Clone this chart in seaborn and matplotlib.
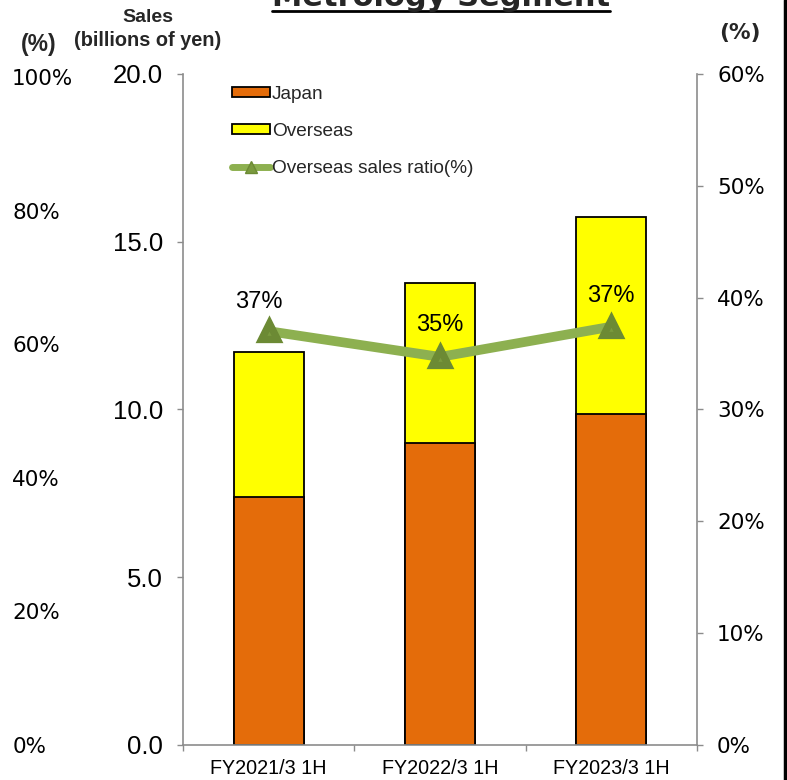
import matplotlib
matplotlib.use("Agg")
import matplotlib.pyplot as plt
import seaborn as sns
import numpy as np
from matplotlib.patches import Patch
from matplotlib.lines import Line2D
from matplotlib.ticker import FixedLocator

sns.set_theme(style="white")
plt.rcParams["font.family"] = ["Liberation Sans", "DejaVu Sans"]

# ---- data ----
categories = ["FY2021/3 1H", "FY2022/3 1H", "FY2023/3 1H"]
japan = [7.39, 9.00, 9.87]
overseas = [4.32, 4.77, 5.87]
ratio = [37.0, 34.7, 37.4]
ratio_labels = ["37%", "35%", "37%"]
left_ticks = [0, 5, 10, 15, 20]
right_ticks = [0, 10, 20, 30, 40, 50, 60]
outer_ticks = [0, 20, 40, 60, 80, 100]

totals = [j + o for j, o in zip(japan, overseas)]

ORANGE = "#E46C0A"
YELLOW = "#FFFF00"
GREEN = "#8DB050"
GREEN_D = "#7A9A3E"
AXC = "#8C8C8C"

fig = plt.figure(figsize=(7.87, 7.80), dpi=100)
ax = fig.add_axes([0.2325, 0.0449, 0.6531, 0.8603])

# stacked bars: totals (overseas part visible on top) then Japan
sns.barplot(x=categories, y=totals, ax=ax, color=YELLOW, saturation=1,
            edgecolor="black", linewidth=1.3, width=0.41)
sns.barplot(x=categories, y=japan, ax=ax, color=ORANGE, saturation=1,
            edgecolor="black", linewidth=1.3, width=0.41)

ax.set_ylim(0, 20)
ax.set_xlim(-0.5, 2.5)
ax.set_yticks(left_ticks)
ax.set_yticklabels([f"{v:.1f}" for v in left_ticks])
ax.set_xlabel("")
ax.set_ylabel("")
ax.xaxis.set_minor_locator(FixedLocator([-0.5, 0.5, 1.5, 2.5]))
ax.tick_params(axis="x", which="major", length=0, pad=10, labelsize=14.2,
               colors="black")
ax.tick_params(axis="x", which="minor", bottom=True, length=4.5, width=1,
               color=AXC, direction="out")
ax.tick_params(axis="y", left=True, length=4.5, width=1, color=AXC,
               direction="out", pad=10, labelsize=18.5, labelcolor="black")
for s in ["top", "right"]:
    ax.spines[s].set_visible(False)
for s in ["left", "bottom"]:
    ax.spines[s].set_color(AXC)
    ax.spines[s].set_linewidth(1.2)

# right axis: overseas ratio
ax2 = ax.twinx()
sns.pointplot(x=categories, y=ratio, ax=ax2, color=GREEN, markers="^",
              markersize=12, linewidth=7, errorbar=None)
for ln in ax2.lines:
    ln.set_markerfacecolor(GREEN_D)
    ln.set_markeredgecolor("#6C8A34")
    ln.set_solid_capstyle("butt")
ax2.set_xlim(-0.5, 2.5)
ax2.set_ylim(0, 60)
ax2.set_yticks(right_ticks)
ax2.set_yticklabels([f"{v}%" for v in right_ticks],
                    fontfamily="DejaVu Sans")
ax2.set_ylabel("")
ax2.tick_params(axis="y", right=True, left=False, labelright=True,
                labelleft=False, length=4.5, width=1, color=AXC,
                direction="out", pad=10, labelsize=15.5, labelcolor="black")
for s in ["top", "left", "bottom"]:
    ax2.spines[s].set_visible(False)
ax2.spines["right"].set_color(AXC)
ax2.spines["right"].set_linewidth(1.2)
ax2.set_xticks(range(len(categories)))
ax2.set_xticklabels(categories)
ax2.set_xlabel("")

offsets = [(-7, 21), (0, 23), (0, 22)]
for i, (r, lab) in enumerate(zip(ratio, ratio_labels)):
    ax2.annotate(lab, (i, r), xytext=offsets[i], textcoords="offset points",
                 ha="center", va="center", fontsize=17, color="black")

# outer left percentage scale
ax3 = ax.twinx()
ax3.set_ylim(0, 100.5)
ax3.set_yticks(outer_ticks)
ax3.set_yticklabels([f"{v}%" for v in outer_ticks], fontfamily="DejaVu Sans")
ax3.yaxis.tick_left()
ax3.tick_params(axis="y", length=0, pad=123, labelsize=15.5, labelcolor="black")
for tl in ax3.get_yticklabels():
    tl.set_horizontalalignment("left")
for s in ax3.spines.values():
    s.set_visible(False)
ax3.set_xlim(-0.5, 2.5)

# legend
handles = [
    Patch(facecolor=ORANGE, edgecolor="black", linewidth=1.3),
    Patch(facecolor=YELLOW, edgecolor="black", linewidth=1.3),
    Line2D([0], [0], color=GREEN, lw=5, marker="^", markersize=9,
           markerfacecolor=GREEN_D, markeredgecolor="#6C8A34"),
]
leg = ax3.legend(handles, ["Japan", "Overseas", "Overseas sales ratio(%)"],
                 loc="upper left", bbox_to_anchor=(0.095, 0.982),
                 frameon=False, fontsize=13.7, handlelength=2.0,
                 handleheight=0.4, handletextpad=0.1, labelspacing=1.05,
                 borderpad=0, borderaxespad=0)

# header texts
fig.text(148 / 787, 1 - 17 / 780, "Sales", ha="center", va="center",
         fontsize=14, fontweight="bold")
fig.text(148 / 787, 1 - 40 / 780, "(billions of yen)", ha="center",
         va="center", fontsize=14.3, fontweight="bold")
fig.text(39 / 787, 1 - 45 / 780, "(%)", ha="center", va="center",
         fontsize=16.5, fontweight="bold")
fig.text(740 / 787, 1 - 33 / 780, "(%)", ha="center", va="center",
         fontsize=15.6, fontweight="bold", fontfamily="DejaVu Sans")

title = fig.text(441 / 787, 1 - 6 / 780, "Metrology Segment", ha="center",
                 va="baseline", fontsize=22, fontweight="bold",
                 fontfamily="DejaVu Sans")
fig.canvas.draw()
bb = title.get_window_extent(fig.canvas.get_renderer())
x0, x1 = bb.x0 / fig.bbox.width, bb.x1 / fig.bbox.width
fig.add_artist(Line2D([x0, x1], [1 - 11 / 780, 1 - 11 / 780], color="black",
                      lw=2, transform=fig.transFigure))

# right border frame
fig.add_artist(Line2D([0.9975, 0.9975], [0, 1], color="black", lw=2.5,
                      transform=fig.transFigure))

fig.savefig("out.png", dpi=100)
